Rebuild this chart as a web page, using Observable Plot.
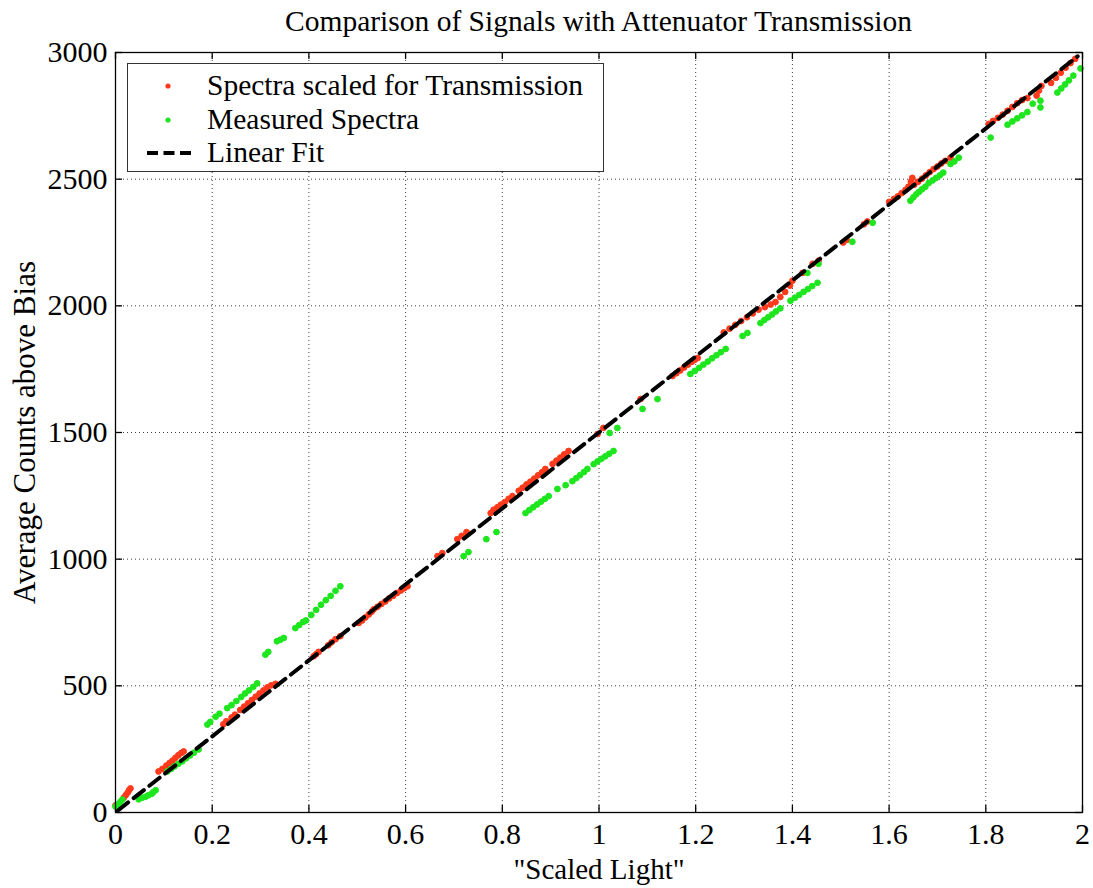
<!DOCTYPE html>
<html>
<head>
<meta charset="utf-8">
<script src="https://cdn.jsdelivr.net/npm/d3@7"></script>
<script src="https://cdn.jsdelivr.net/npm/@observablehq/plot@0.6"></script>
<style>
  html, body { margin: 0; padding: 0; background: #fff; }
  #wrap { position: relative; width: 1093px; height: 888px; font-family: "Liberation Serif", "Times New Roman", serif; background: #fff; }
  #chart { position: absolute; left: 0; top: 24px; }
  #title { position: absolute; left: 115px; width: 967px; top: 0; height: 38px; line-height: 42px; text-align: center; font-size: 29.5px; color: #000; white-space: nowrap; }
  #legend { position: absolute; left: 127px; top: 63px; width: 475px; height: 107px; border: 1.5px solid #333; background: #fff; font-size: 29.5px; }
  .row { position: absolute; left: 0; height: 33px; width: 100%; }
  .row span { position: absolute; left: 79px; top: 0; line-height: 33px; white-space: nowrap; }
  .row svg { position: absolute; left: 14px; top: 0; }
</style>
</head>
<body>
<div id="wrap">
  <div id="chart"></div>
  <div id="title"></div>
  <div id="legend"></div>
</div>
<script>
// ---- data ----
const titleText = "Comparison of Signals with Attenuator Transmission";
const xLabel = "\"Scaled Light\"";
const yLabel = "Average Counts above Bias";
const xTicks = [0, 0.2, 0.4, 0.6, 0.8, 1, 1.2, 1.4, 1.6, 1.8, 2];
const xTickLabels = ["0", "0.2", "0.4", "0.6", "0.8", "1", "1.2", "1.4", "1.6", "1.8", "2"];
const yTicks = [0, 500, 1000, 1500, 2000, 2500, 3000];
const yTickLabels = ["0", "500", "1000", "1500", "2000", "2500", "3000"];
const seriesNames = ["Spectra scaled for Transmission", "Measured Spectra", "Linear Fit"];

// Spectra scaled for Transmission (red)
const redX = [0.000, 0.017, 0.021, 0.025, 0.028, 0.031,
  0.089, 0.097, 0.105, 0.112, 0.118, 0.124, 0.130, 0.136, 0.141,
  0.223, 0.229, 0.240, 0.247, 0.258, 0.266, 0.274, 0.282, 0.290, 0.298, 0.306, 0.314, 0.322, 0.331,
  0.410, 0.415, 0.420, 0.440, 0.447, 0.455, 0.465,
  0.503, 0.510, 0.517, 0.524, 0.530, 0.534,
  0.542, 0.550, 0.558, 0.566, 0.574, 0.582, 0.590, 0.597, 0.604,
  0.666, 0.676, 0.707, 0.716, 0.726,
  0.776, 0.782, 0.790, 0.797, 0.805, 0.813, 0.821,
  0.834, 0.842, 0.850, 0.858, 0.866, 0.874, 0.882, 0.889,
  0.904, 0.912, 0.920, 0.928, 0.937,
  0.997, 1.009, 1.086,
  1.152, 1.160, 1.168, 1.176, 1.184, 1.192, 1.198, 1.204,
  1.258, 1.270, 1.282, 1.294, 1.306, 1.318, 1.330, 1.343, 1.355, 1.365, 1.375, 1.385, 1.395, 1.400,
  1.421, 1.442, 1.454, 1.505, 1.512, 1.548, 1.555,
  1.600, 1.610, 1.618, 1.626, 1.634, 1.640, 1.645, 1.648, 1.652, 1.660, 1.668, 1.676, 1.684, 1.692, 1.700, 1.708, 1.716, 1.727,
  1.806, 1.815, 1.825, 1.835, 1.845, 1.855, 1.865, 1.875, 1.886, 1.905, 1.910, 1.915,
  1.935, 1.945, 1.955, 1.965, 1.975, 1.985];
const redY = [28, 58, 68, 78, 88, 95,
  162, 172, 185, 196, 205, 216, 226, 235, 241,
  348, 360, 375, 386, 405, 418, 431, 444, 457, 470, 482, 494, 502, 508,
  617, 625, 634, 660, 672, 684, 696,
  748, 758, 770, 782, 793, 802,
  812, 823, 833, 845, 855, 866, 876, 885, 893,
  1012, 1024, 1079, 1092, 1107,
  1182, 1195, 1205, 1215, 1225, 1238, 1249,
  1270, 1282, 1295, 1306, 1318, 1331, 1343, 1356,
  1376, 1389, 1401, 1414, 1427,
  1494, 1518, 1632,
  1723, 1734, 1745, 1757, 1768, 1779, 1787, 1794,
  1895, 1910, 1925, 1940, 1955, 1970, 1985, 1995, 2005, 2015, 2035, 2055, 2080, 2099,
  2130, 2166, 2178, 2250, 2260, 2322, 2333,
  2410, 2422, 2432, 2445, 2458, 2470, 2490, 2505, 2478, 2490, 2502, 2515, 2528, 2540, 2550, 2562, 2572, 2585,
  2718, 2730, 2742, 2755, 2770, 2785, 2800, 2812, 2820, 2830, 2850, 2868,
  2880, 2900, 2920, 2940, 2958, 2975];

// Measured Spectra (green)
const greenX = [0.000, 0.005, 0.010, 0.014,
  0.048, 0.055, 0.062, 0.068, 0.075, 0.078, 0.083,
  0.107, 0.115, 0.122, 0.130, 0.138, 0.146, 0.154, 0.162, 0.172,
  0.190, 0.196, 0.207, 0.215, 0.231, 0.240, 0.250, 0.260, 0.268, 0.276, 0.285, 0.293,
  0.310, 0.316, 0.334, 0.341, 0.348,
  0.372, 0.380, 0.388, 0.394, 0.405, 0.415, 0.425, 0.435, 0.445, 0.455, 0.465,
  0.720, 0.730, 0.767, 0.788,
  0.848, 0.856, 0.864, 0.872, 0.880, 0.888, 0.896,
  0.914, 0.931,
  0.945, 0.953, 0.961, 0.969, 0.976,
  0.989, 0.997, 1.005, 1.013, 1.021, 1.030,
  1.022, 1.038, 1.090, 1.121,
  1.189, 1.198, 1.207, 1.216, 1.225, 1.234, 1.243, 1.252, 1.262,
  1.297, 1.307,
  1.334, 1.342, 1.350, 1.358, 1.366, 1.375,
  1.396, 1.405, 1.414, 1.423, 1.432, 1.441, 1.452,
  1.431, 1.454, 1.524, 1.566,
  1.644, 1.650, 1.656, 1.662, 1.668, 1.675, 1.682, 1.690, 1.697, 1.705, 1.712,
  1.727, 1.735, 1.744, 1.810,
  1.845, 1.855, 1.865, 1.875, 1.886,
  1.897, 1.913, 1.913,
  1.948, 1.956, 1.964, 1.972, 1.981, 1.996];
const greenY = [24, 32, 42, 51,
  52, 58, 62, 68, 74, 80, 88,
  162, 172, 182, 192, 202, 214, 225, 236, 249,
  347, 358, 378, 390, 412, 424, 440, 456, 470, 482, 496, 510,
  623, 634, 676, 682, 689,
  728, 740, 752, 758, 780, 800, 820, 838, 855, 875, 893,
  1012, 1028, 1079, 1107,
  1182, 1194, 1205, 1216, 1227, 1238, 1249,
  1277, 1292,
  1308, 1320, 1332, 1344, 1356,
  1375, 1386, 1396, 1406, 1416, 1427,
  1498, 1518, 1593, 1632,
  1731, 1743, 1755, 1768, 1780, 1793, 1805, 1817, 1830,
  1881, 1893,
  1932, 1944, 1955, 1966, 1978, 1990,
  2020, 2032, 2043, 2055, 2066, 2078, 2091,
  2130, 2166, 2253, 2328,
  2415, 2428, 2440, 2450, 2460, 2470, 2485, 2495, 2505, 2515, 2526,
  2560, 2570, 2585, 2664,
  2715, 2728, 2740, 2752, 2765,
  2798, 2810, 2783,
  2842, 2858, 2874, 2890, 2909, 2937];

// Linear Fit (black dashed)
const fitX = [0.005, 1.99];
const fitY = [8, 2985];

// ---- build tables ----
const red = redX.map((x, i) => ({x, y: redY[i]}));
const green = greenX.map((x, i) => ({x, y: greenY[i]}));
const fit = fitX.map((x, i) => ({x, y: fitY[i]}));

const redColor = "#ff3a1c";
const greenColor = "#1ee61e";
const FONT = "Liberation Serif, Times New Roman, serif";

document.getElementById("title").textContent = titleText;

const chart = Plot.plot({
  width: 1093,
  height: 864,
  marginLeft: 115,
  marginRight: 11,
  marginTop: 28,
  marginBottom: 76,
  style: {fontFamily: FONT, fontSize: "30px", color: "#000", background: "transparent", overflow: "visible"},
  x: {domain: [0, 2]},
  y: {domain: [0, 3000]},
  marks: [
    Plot.gridX(xTicks, {stroke: "#000", strokeOpacity: 0.75, strokeDasharray: "1,3"}),
    Plot.gridY(yTicks, {stroke: "#000", strokeOpacity: 0.75, strokeDasharray: "1,3"}),
    // inward tick marks on all four sides
    Plot.ruleX(xTicks, {x: d => d, y1: 0, y2: 0, insetTop: -7, stroke: "#000", strokeWidth: 1.3}),
    Plot.ruleX(xTicks, {x: d => d, y1: 3000, y2: 3000, insetBottom: -7, stroke: "#000", strokeWidth: 1.3}),
    Plot.ruleY(yTicks, {y: d => d, x1: 0, x2: 0, insetRight: -7, stroke: "#000", strokeWidth: 1.3}),
    Plot.ruleY(yTicks, {y: d => d, x1: 2, x2: 2, insetLeft: -7, stroke: "#000", strokeWidth: 1.3}),
    Plot.axisX({ticks: xTicks, tickFormat: (d) => xTickLabels[xTicks.indexOf(d)], tickSize: 0, tickPadding: 10,
      fontSize: 30, label: null}),
    Plot.axisX({ticks: [], tickSize: 0, fontSize: 29, label: xLabel, labelAnchor: "center", labelOffset: 66, labelArrow: "none"}),
    Plot.axisY({ticks: yTicks, tickFormat: (d) => yTickLabels[yTicks.indexOf(d)], tickSize: 0, tickPadding: 8,
      fontSize: 30, label: null}),
    Plot.axisY({ticks: [], tickSize: 0, fontSize: 31, label: yLabel, labelAnchor: "center", labelOffset: 103, labelArrow: "none"}),
    Plot.dot(red, {x: "x", y: "y", r: 2.9, fill: redColor, stroke: redColor, strokeWidth: 1}),
    Plot.dot(green, {x: "x", y: "y", r: 2.9, fill: greenColor, stroke: greenColor, strokeWidth: 1}),
    Plot.line(fit, {x: "x", y: "y", stroke: "#000", strokeWidth: 4, strokeDasharray: "13,7"}),
    Plot.frame({stroke: "#000", strokeWidth: 1.3})
  ]
});
document.getElementById("chart").appendChild(chart);

// legend (HTML overlay inside the axes box)
const legend = document.getElementById("legend");
const legendColors = [redColor, greenColor, "#000"];
seriesNames.forEach((name, i) => {
  const row = document.createElement("div");
  row.className = "row";
  row.style.top = (5 + i * 33.5) + "px";
  const ns = "http://www.w3.org/2000/svg";
  const s = document.createElementNS(ns, "svg");
  s.setAttribute("width", "56"); s.setAttribute("height", "33");
  if (i < 2) {
    const c = document.createElementNS(ns, "circle");
    c.setAttribute("cx", "26"); c.setAttribute("cy", "17"); c.setAttribute("r", "2.6");
    c.setAttribute("fill", legendColors[i]);
    s.appendChild(c);
  } else {
    const l = document.createElementNS(ns, "line");
    l.setAttribute("x1", "5"); l.setAttribute("x2", "49"); l.setAttribute("y1", "17"); l.setAttribute("y2", "17");
    l.setAttribute("stroke", "#000"); l.setAttribute("stroke-width", "4"); l.setAttribute("stroke-dasharray", "11,5.5");
    s.appendChild(l);
  }
  row.appendChild(s);
  const t = document.createElement("span");
  t.textContent = name;
  row.appendChild(t);
  legend.appendChild(row);
});
</script>
</body>
</html>
